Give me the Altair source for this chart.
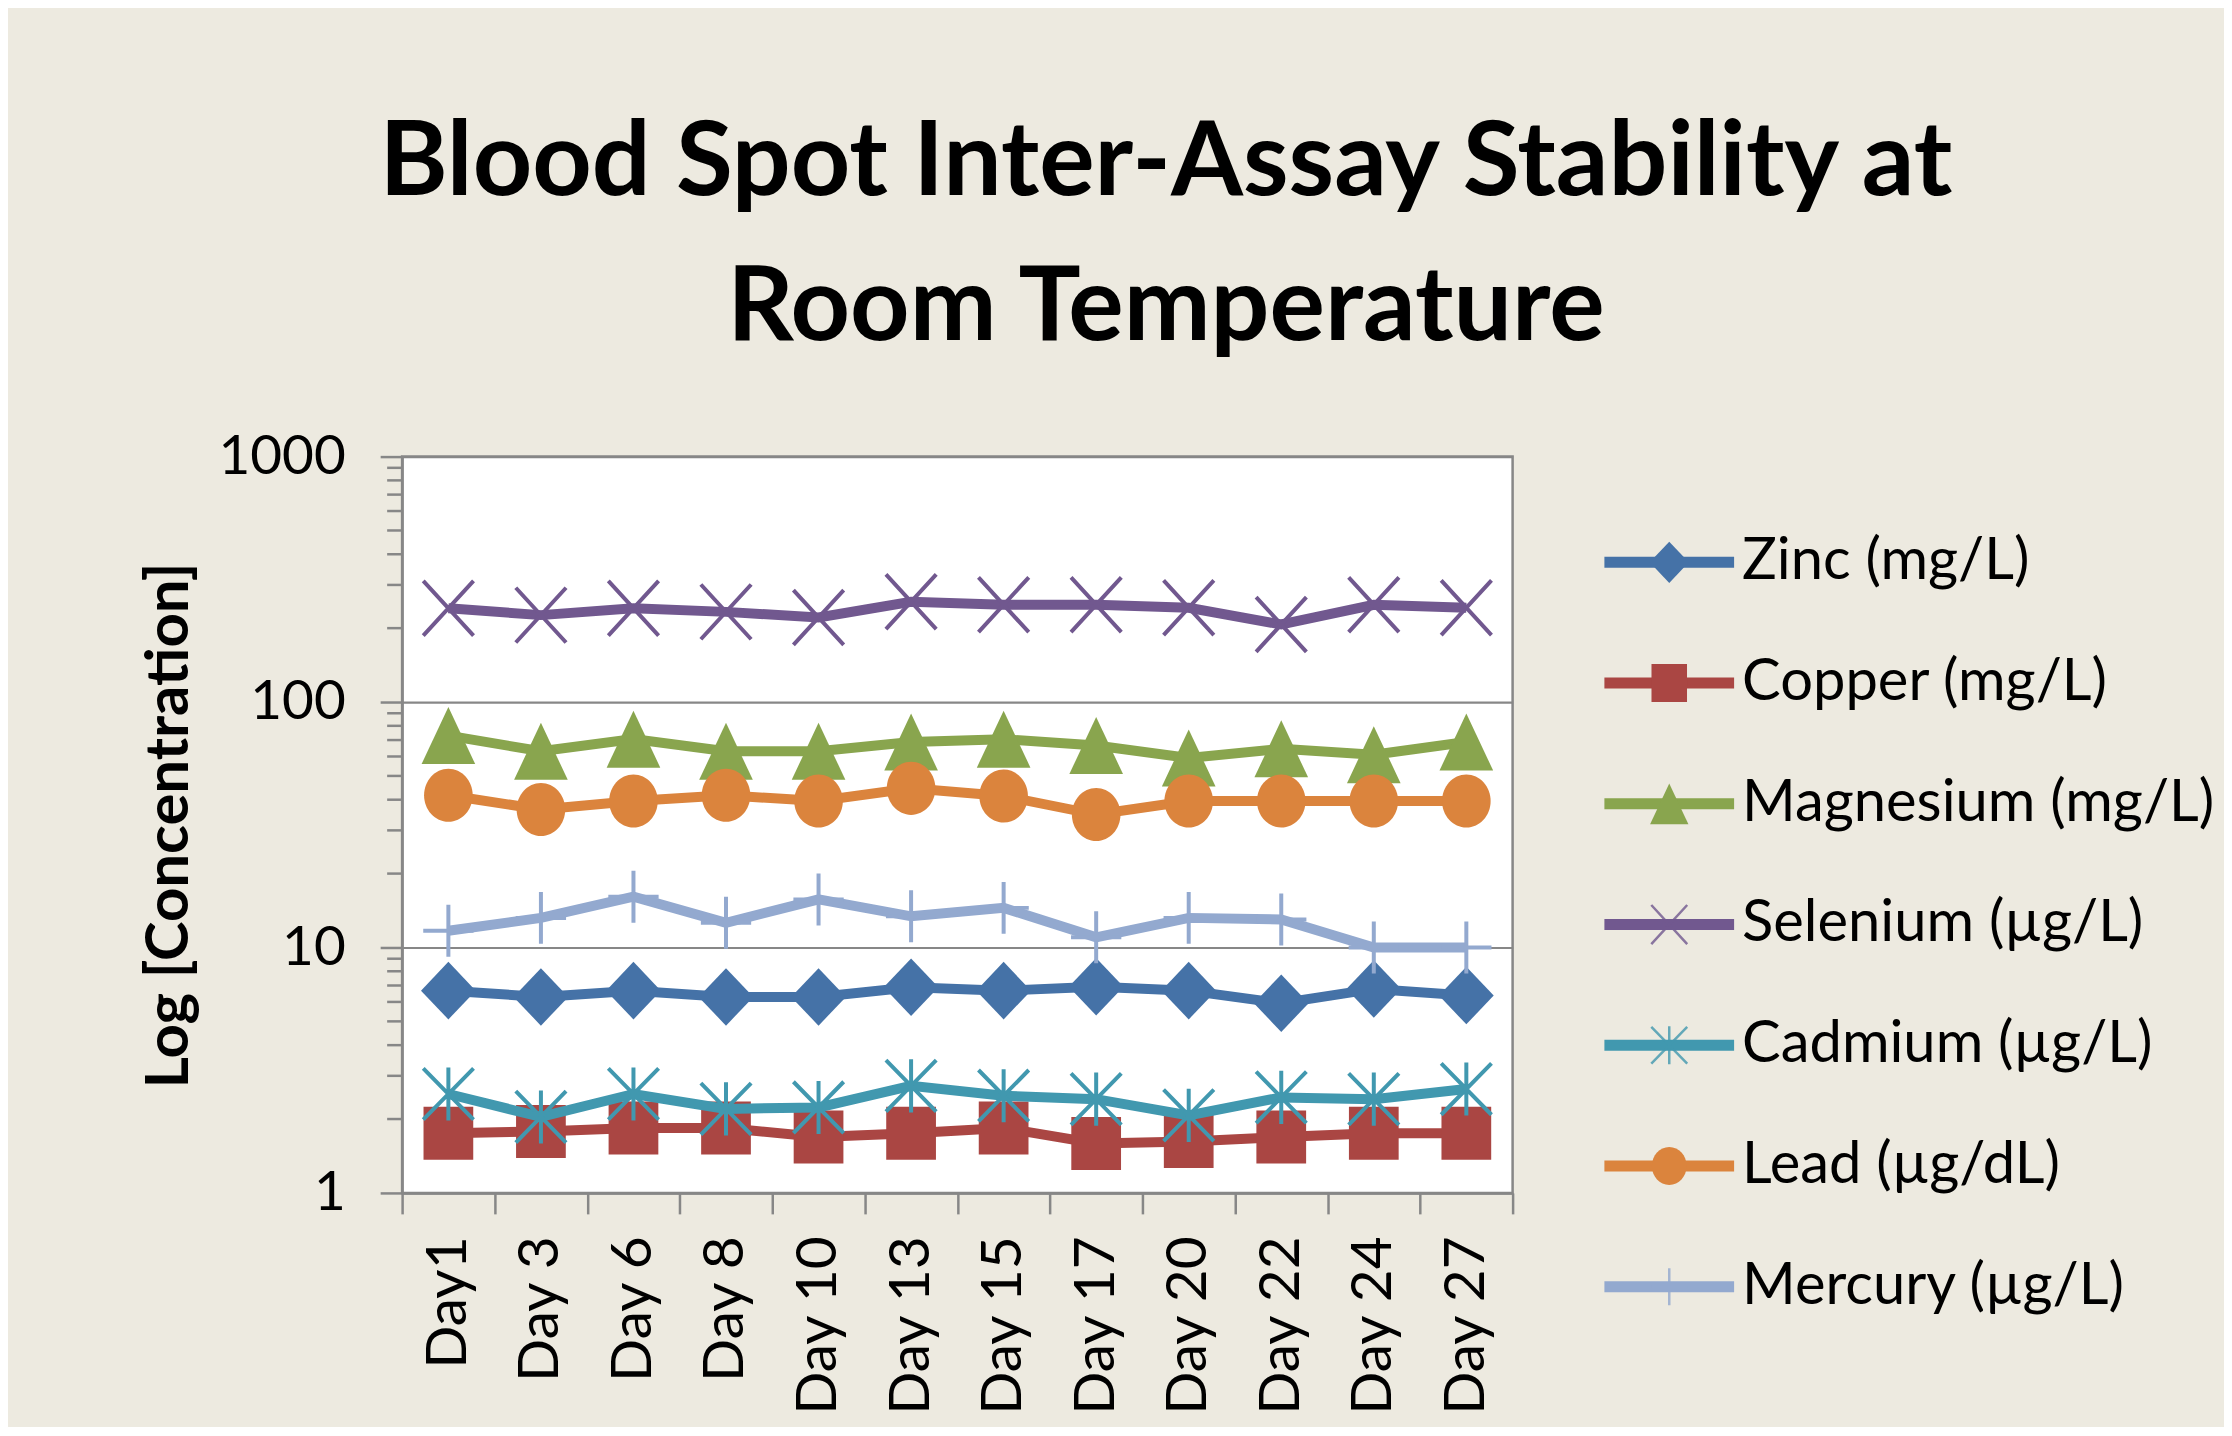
import altair as alt
import pandas as pd

# ---------------- data ----------------
days = ["Day1", "Day 3", "Day 6", "Day 8", "Day 10", "Day 13",
        "Day 15", "Day 17", "Day 20", "Day 22", "Day 24", "Day 27"]

series = ["Zinc (mg/L)", "Copper (mg/L)", "Magnesium (mg/L)", "Selenium (µg/L)",
          "Cadmium (µg/L)", "Lead (µg/dL)", "Mercury (µg/L)"]

zinc = [6.67, 6.29, 6.67, 6.29, 6.29, 6.88, 6.67, 6.92, 6.67, 5.93, 6.78, 6.37]
copper = [1.75, 1.78, 1.84, 1.84, 1.69, 1.75, 1.84, 1.59, 1.62, 1.69, 1.75, 1.75]
magnesium = [73, 63, 70.6, 63, 63, 68.7, 70.6, 66.5, 59.2, 64.5, 61, 68.7]
selenium = [241, 226, 241, 233, 221, 256, 249, 249, 242, 207, 249, 242]
cadmium = [2.53, 2.04, 2.53, 2.20, 2.23, 2.73, 2.49, 2.41, 2.07, 2.45, 2.41, 2.65]
lead = [41.7, 36.5, 39.5, 41.7, 39.5, 44.5, 41.4, 34.8, 39.5, 39.5, 39.5, 39.5]
mercury = [11.7, 13.2, 16.1, 12.6, 15.7, 13.4, 14.5, 11.0, 13.2, 13.0, 10.0, 10.0]

y_major = [1, 10, 100, 1000]
y_minor = [2, 3, 4, 5, 6, 7, 8, 9,
           20, 30, 40, 50, 60, 70, 80, 90,
           200, 300, 400, 500, 600, 700, 800, 900]

legend_rows = [0, 1, 2, 3, 4, 5, 6]

# ---------------- styles ----------------
colors = ["#4572A7", "#AA4643", "#89A54E", "#71588F", "#4198AF", "#DB843D", "#93A9CF"]
shapes = [
    "M0,-1.03L0.98,0L0,1.03L-0.98,0Z",                                   # diamond
    "M-0.89,-0.95L0.89,-0.95L0.89,0.95L-0.89,0.95Z",                      # square
    "M0,-1.02L0.96,1.02L-0.96,1.02Z",                                     # triangle
    "M-0.9,-0.98L0.9,0.98M-0.9,0.98L0.9,-0.98",                           # x
    "M-0.9,-0.92L0.9,0.92M-0.9,0.92L0.9,-0.92M0,-0.95L0,0.95",            # star
    "M-0.87,0A0.87,0.95,0,1,0,0.87,0A0.87,0.95,0,1,0,-0.87,0Z",           # circle
    "M0,-0.93L0,0.93M-0.9,0L0.9,0",                                       # plus
]
filled_kind = ["filled", "filled", "filled", "stroke", "stroke", "filled", "stroke"]

GRAY = "#878787"
FONT = "Lato"
BG = "#EDEAE0"

rows = []
for s, vals in zip(series, [zinc, copper, magnesium, selenium, cadmium, lead, mercury]):
    for d, v in zip(days, vals):
        rows.append({"Series": s, "Day": d, "Value": v})
df = pd.DataFrame(rows)
minor_df = pd.DataFrame({"Value": y_minor})

color_scale = alt.Scale(domain=series, range=colors)
shape_scale = alt.Scale(domain=series, range=shapes)

x_enc = alt.X(
    "Day:N", sort=days, title=None,
    scale=alt.Scale(type="band", paddingInner=0, paddingOuter=0),
    axis=alt.Axis(labelAngle=270, labelFont=FONT, labelFontSize=57, labelColor="black",
                  labelLimit=500, labelPadding=22, tickSize=21, tickColor=GRAY, tickWidth=2.5,
                  domainColor=GRAY, domainWidth=2.5, tickBand="extent", grid=False),
)
y_axis = alt.Axis(values=y_major, format="d", title="Log [Concentration]",
                  titleFont=FONT, titleFontSize=60, titleFontWeight="bold", titleColor="black",
                  titlePadding=17, labelFont=FONT, labelFontSize=55, labelColor="black",
                  labelPadding=35, tickSize=22, tickColor=GRAY, tickWidth=2.5,
                  domainColor=GRAY, domainWidth=2.5, grid=True, gridColor=GRAY, gridWidth=2.2)
y_scale = alt.Scale(type="log", domain=[1, 1000])
y_enc = alt.Y("Value:Q", scale=y_scale, axis=y_axis)
color_enc = alt.Color("Series:N", scale=color_scale, legend=None)
shape_enc = alt.Shape("Series:N", scale=shape_scale, legend=None)

layers = []
for s, kind in zip(series, filled_kind):
    sub = alt.Chart(df).transform_filter(alt.FieldEqualPredicate(field="Series", equal=s))
    line = sub.mark_line(strokeWidth=10).encode(x=x_enc, y=y_enc, color=color_enc)
    if kind == "filled":
        pt = sub.mark_point(filled=True, size=3136, opacity=1, strokeWidth=0)
    else:
        pt = sub.mark_point(filled=False, size=3136, opacity=1, strokeWidth=4)
    pt = pt.encode(x=x_enc, y=y_enc, color=color_enc, shape=shape_enc)
    layers += [line, pt]

# minor log ticks on the left axis (y through the shared log scale)
minor_rule = alt.Chart(minor_df).mark_rule(color=GRAY, strokeWidth=2.5).encode(
    y=y_enc, x=alt.value(-15), x2=alt.value(0),
)
layers.append(minor_rule)

main = alt.layer(*layers).properties(
    width=1113, height=738,
    view=alt.ViewBackground(fill="white", stroke=GRAY, strokeWidth=2.5),
    title=alt.TitleParams(
        text=["Blood Spot Inter-Assay Stability at", "Room Temperature"],
        font=FONT, fontSize=104, fontWeight="bold", color="black",
        lineHeight=145, anchor="middle", frame="group", dx=209, offset=68,
    ),
)

# ---------------- legend panel ----------------
leg_df = pd.DataFrame({"Series": series, "row": legend_rows, "kind": filled_kind})
leg_df["x0"] = 0.0
leg_df["x1"] = 1.0
leg_df["xm"] = 0.5

leg_y = alt.Y("row:Q", scale=alt.Scale(domain=[-0.876, 6.562], reverse=True), axis=None)
leg_x = alt.Scale(domain=[0, 1])

leg_base = alt.Chart(leg_df)
leg_line = leg_base.mark_rule(strokeWidth=11).encode(
    x=alt.X("x0:Q", scale=leg_x, axis=None), x2="x1:Q", y=leg_y, color=color_enc)
leg_fill = leg_base.transform_filter(alt.FieldEqualPredicate(field="kind", equal="filled")).mark_point(
    filled=True, size=1600, opacity=1, strokeWidth=0).encode(
    x=alt.X("xm:Q", scale=leg_x, axis=None), y=leg_y, color=color_enc, shape=shape_enc)
leg_stroke = leg_base.transform_filter(alt.FieldEqualPredicate(field="kind", equal="stroke")).mark_point(
    filled=False, size=1600, opacity=0.8, strokeWidth=2.5).encode(
    x=alt.X("xm:Q", scale=leg_x, axis=None), y=leg_y, color=color_enc, shape=shape_enc)
leg_text = leg_base.mark_text(align="left", baseline="middle", dx=8, font=FONT, fontSize=58,
                              color="black").encode(
    x=alt.X("x1:Q", scale=leg_x, axis=None), y=leg_y, text="Series:N")

legend = alt.layer(leg_line, leg_fill, leg_stroke, leg_text).properties(width=130, height=900)

chart = alt.hconcat(main, legend, spacing=92, bounds="flush").properties(
    background=BG,
    padding={"left": 131, "top": 101, "right": 9, "bottom": 8},
).configure_view(stroke="transparent")

chart.save("out.html", embed_options={"renderer": "svg", "actions": False})
